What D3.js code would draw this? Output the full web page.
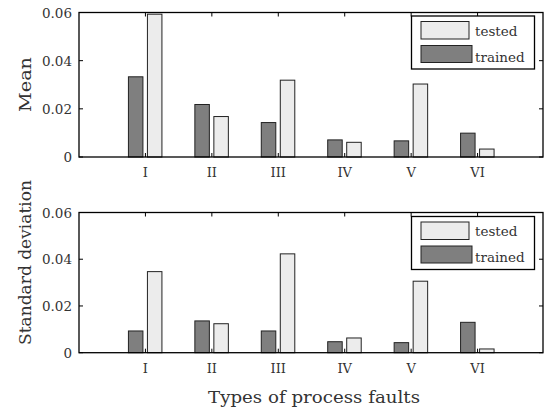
<!DOCTYPE html>
<html><head><meta charset="utf-8">
<script src="https://cdn.jsdelivr.net/npm/d3@7"></script>
<style>body{margin:0;background:#fff;} svg{display:block;}</style>
</head><body>
<svg id="c" width="544" height="408"></svg>
<script>
const categories = ["I","II","III","IV","V","VI"];
const meanTrained = [0.0333,0.0218,0.0143,0.0071,0.0067,0.0099];
const meanTested  = [0.0593,0.0168,0.0319,0.0061,0.0303,0.0033];
const stdTrained  = [0.0093,0.0136,0.0093,0.0047,0.0043,0.0130];
const stdTested   = [0.0347,0.0124,0.0423,0.0063,0.0306,0.0016];
const yTicks = [0,0.02,0.04,0.06];
const yTickLabels = ["0","0.02","0.04","0.06"];
const seriesNames = ["tested","trained"];

const svg = d3.select("#c");
const FONT = "DejaVu Serif";
const TXT = "#333";
const colors = {trained:"#7f7f7f", tested:"#ececec"};

function panel(top, bottom, trained, tested, ylabel, legTop, labCenter, labLen) {
  const left = 79, right = 544;
  const x = d3.scaleLinear().domain([0,7]).range([left,right]);
  const y = d3.scaleLinear().domain([0,0.06]).range([bottom, top]);
  const g = svg.append("g");
  const bw = 14.5;
  categories.forEach((c,i)=>{
    const cx = x(i+1);
    g.append("rect").attr("x", cx-17).attr("y", y(trained[i])).attr("width", bw)
      .attr("height", y(0)-y(trained[i])).attr("fill", colors.trained).attr("stroke","#222").attr("stroke-width",1);
    g.append("rect").attr("x", cx+2).attr("y", y(tested[i])).attr("width", bw)
      .attr("height", y(0)-y(tested[i])).attr("fill", colors.tested).attr("stroke","#222").attr("stroke-width",1);
  });
  g.append("rect").attr("x",left).attr("y",top).attr("width",right-left-1).attr("height",bottom-top)
    .attr("fill","none").attr("stroke","#000").attr("stroke-width",1.3);
  categories.forEach((c,i)=>{
    const cx = x(i+1);
    g.append("line").attr("x1",cx).attr("x2",cx).attr("y1",bottom).attr("y2",bottom-4).attr("stroke","#000");
    g.append("line").attr("x1",cx).attr("x2",cx).attr("y1",top).attr("y2",top+4).attr("stroke","#000");
    g.append("text").attr("x",cx).attr("y",bottom+20).attr("text-anchor","middle")
      .attr("font-family",FONT).attr("font-size",13).attr("fill",TXT).text(c);
  });
  yTicks.forEach((t,i)=>{
    g.append("line").attr("x1",left).attr("x2",left+4).attr("y1",y(t)).attr("y2",y(t)).attr("stroke","#000");
    g.append("line").attr("x1",right-1).attr("x2",right-5).attr("y1",y(t)).attr("y2",y(t)).attr("stroke","#000");
    g.append("text").attr("x",72).attr("y",y(t)+5).attr("text-anchor","end")
      .attr("font-family",FONT).attr("font-size",13.5).attr("fill",TXT).text(yTickLabels[i]);
  });
  g.append("text").attr("transform",`translate(30.5,${labCenter}) rotate(-90)`).attr("text-anchor","middle")
    .attr("font-family",FONT).attr("font-size",17).attr("fill",TXT)
    .attr("textLength",labLen).attr("lengthAdjust","spacingAndGlyphs").text(ylabel);
  const lg = g.append("g");
  lg.append("rect").attr("x",411.5).attr("y",legTop).attr("width",123).attr("height",53)
    .attr("fill","#fff").attr("stroke","#000").attr("stroke-width",1.3);
  lg.append("rect").attr("x",421).attr("y",legTop+5.5).attr("width",48).attr("height",17.5)
    .attr("fill",colors.tested).attr("stroke","#222");
  lg.append("rect").attr("x",421).attr("y",legTop+29.5).attr("width",51).attr("height",17)
    .attr("fill",colors.trained).attr("stroke","#222");
  lg.append("text").attr("x",475).attr("y",legTop+19.5).attr("font-family",FONT).attr("font-size",13.5).attr("fill",TXT).text(seriesNames[0]);
  lg.append("text").attr("x",475).attr("y",legTop+45.5).attr("font-family",FONT).attr("font-size",13.5).attr("fill",TXT).text(seriesNames[1]);
}
panel(12.5, 157, meanTrained, meanTested, "Mean", 16, 84.5, 55);
panel(212.5, 352.7, stdTrained, stdTested, "Standard deviation", 216.5, 262.5, 165);
svg.append("text").attr("x",314).attr("y",403).attr("text-anchor","middle")
  .attr("font-family",FONT).attr("font-size",17.5).attr("fill",TXT)
  .attr("textLength",212).attr("lengthAdjust","spacingAndGlyphs").text("Types of process faults");
</script>
</body></html>
